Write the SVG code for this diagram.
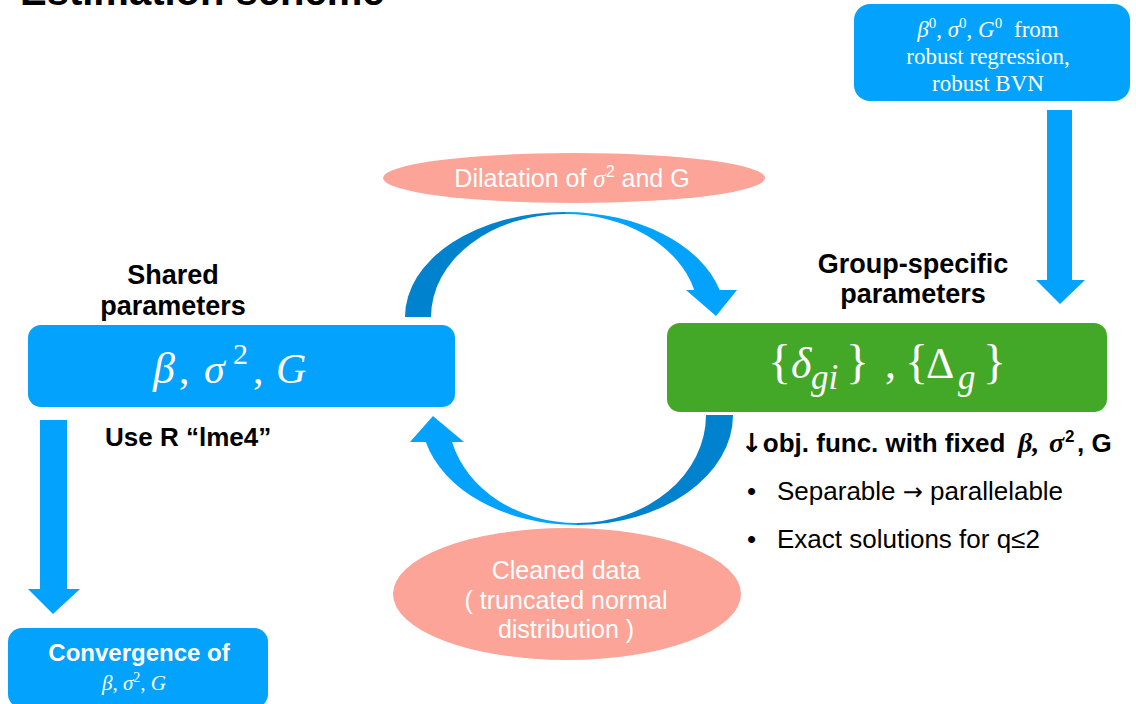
<svg xmlns="http://www.w3.org/2000/svg" width="1136" height="704" viewBox="0 0 1136 704">
<style>
.sans{font-family:"Liberation Sans",Arial,sans-serif}
.dv{font-family:"DejaVu Sans",sans-serif}
.bold{font-weight:bold}
.serif{font-family:"Liberation Serif","Times New Roman",serif}
.it{font-style:italic}
.w{fill:#ffffff}
.k{fill:#000000}
.blue{fill:#03A2FC}
.dark{fill:#0182CE}
.green{fill:#43A727}
.salmon{fill:#FBA497}
</style>
<rect width="1136" height="704" fill="#ffffff"/>
<text x="20" y="5" class="sans bold k" font-size="40">Estimation scheme</text>

<g id="connectors">
  <path class="blue" d="M1047,110 H1072 V280 H1085 L1060,304 L1036,280 H1047 Z"/>
  <path class="blue" d="M40,420 H67 V589 H80 L53,614 L28,589 H40 Z"/>
  <path class="dark" d="M405,317 A160,105 0 0 1 565,212 L565,214 A134,103 0 0 0 431,317 Z"/>
  <path class="blue" d="M565,212 A160,105 0 0 1 719.6,290 L694.3,290 A134,103 0 0 0 565,214 Z"/>
  <path class="blue" d="M686,290 L737,290 L716,316 Z"/>
  <path class="dark" d="M733,415 A156,110 0 0 1 577,525 L577,523 A129,108 0 0 0 706,415 Z"/>
  <path class="blue" d="M577,525 A156,110 0 0 1 425.8,442 L452.1,442 A129,108 0 0 0 577,523 Z"/>
  <path class="blue" d="M410,442 L464,442 L433,416 Z"/>
</g>

<g id="init">
  <rect x="854" y="4" width="276" height="97" rx="16" class="blue"/>
  <text x="988" y="37" text-anchor="middle" class="serif w" font-size="23"><tspan class="it">β</tspan><tspan font-size="15" dy="-9">0</tspan><tspan dy="9">, </tspan><tspan class="it">σ</tspan><tspan font-size="15" dy="-9">0</tspan><tspan dy="9">, </tspan><tspan class="it">G</tspan><tspan font-size="15" dy="-9">0</tspan><tspan dy="9" dx="6"> from</tspan></text>
  <text x="988" y="64" text-anchor="middle" class="serif w" font-size="23">robust regression,</text>
  <text x="988" y="91" text-anchor="middle" class="serif w" font-size="23">robust BVN</text>
</g>

<g id="dilatation">
  <ellipse cx="574" cy="178" rx="191" ry="25" class="salmon"/>
  <text x="572" y="187" text-anchor="middle" class="sans w" font-size="25">Dilatation of <tspan class="serif it">σ</tspan><tspan font-size="16" dy="-10">2</tspan><tspan dy="10"> and G</tspan></text>
</g>

<g id="shared">
  <text x="173" y="284" text-anchor="middle" class="sans bold k" font-size="27">Shared</text>
  <text x="173" y="315" text-anchor="middle" class="sans bold k" font-size="27">parameters</text>
  <rect x="28" y="325" width="427" height="82" rx="13" class="blue"/>
  <text y="383" class="serif w" font-size="42"><tspan x="153" class="it" font-size="44">β</tspan><tspan x="179">,</tspan><tspan x="204" class="it">σ</tspan><tspan x="233" y="364" font-size="30">2</tspan><tspan x="253" y="383">,</tspan><tspan x="276" class="it">G</tspan></text>
  <text x="105" y="446" class="sans bold k" font-size="26">Use R “lme4”</text>
</g>

<g id="group">
  <text x="913" y="273" text-anchor="middle" class="sans bold k" font-size="27">Group-specific</text>
  <text x="913" y="303" text-anchor="middle" class="sans bold k" font-size="27">parameters</text>
  <rect x="667" y="323" width="440" height="89" rx="13" class="green"/>
  <text y="378" class="serif w" font-size="44"><tspan x="768" font-size="48">{</tspan><tspan x="791" class="it">δ</tspan><tspan x="811" y="389" font-size="35" class="it">gi</tspan><tspan x="846" y="378" font-size="48">}</tspan><tspan x="885">,</tspan><tspan x="905" font-size="48">{</tspan><tspan x="926">Δ</tspan><tspan x="958" y="389" font-size="35" class="it">g</tspan><tspan x="983" y="378" font-size="48">}</tspan></text>
  <text y="452" class="sans bold k" font-size="26"><tspan x="741" class="dv">↓</tspan><tspan>obj. func. with fixed </tspan><tspan x="1018" class="serif it" font-size="28">β,</tspan><tspan x="1049" class="serif it" font-size="28">σ</tspan><tspan x="1065" font-size="17" dy="-10">2</tspan><tspan x="1077" dy="10">, G</tspan></text>
  <text x="747" y="500" class="sans k" font-size="26">•</text>
  <text x="777" y="500" class="sans k" font-size="26">Separable <tspan class="dv" font-size="24">→</tspan> parallelable</text>
  <text x="747" y="548" class="sans k" font-size="26">•</text>
  <text x="777" y="548" class="sans k" font-size="26">Exact solutions for q≤2</text>
</g>

<g id="cleaned">
  <ellipse cx="567" cy="594" rx="174" ry="66" class="salmon"/>
  <text x="566" y="579" text-anchor="middle" class="sans w" font-size="25">Cleaned data</text>
  <text x="566" y="609" text-anchor="middle" class="sans w" font-size="25">( truncated normal</text>
  <text x="566" y="638" text-anchor="middle" class="sans w" font-size="25">distribution )</text>
</g>

<g id="convergence">
  <rect x="8" y="628" width="260" height="80" rx="14" class="blue"/>
  <text x="139" y="661" text-anchor="middle" class="sans bold w" font-size="24">Convergence of</text>
  <text x="134" y="690" text-anchor="middle" class="serif it w" font-size="21">β, σ<tspan font-size="14" dy="-8" font-style="normal">2</tspan><tspan dy="8">, G</tspan></text>
</g>
</svg>
